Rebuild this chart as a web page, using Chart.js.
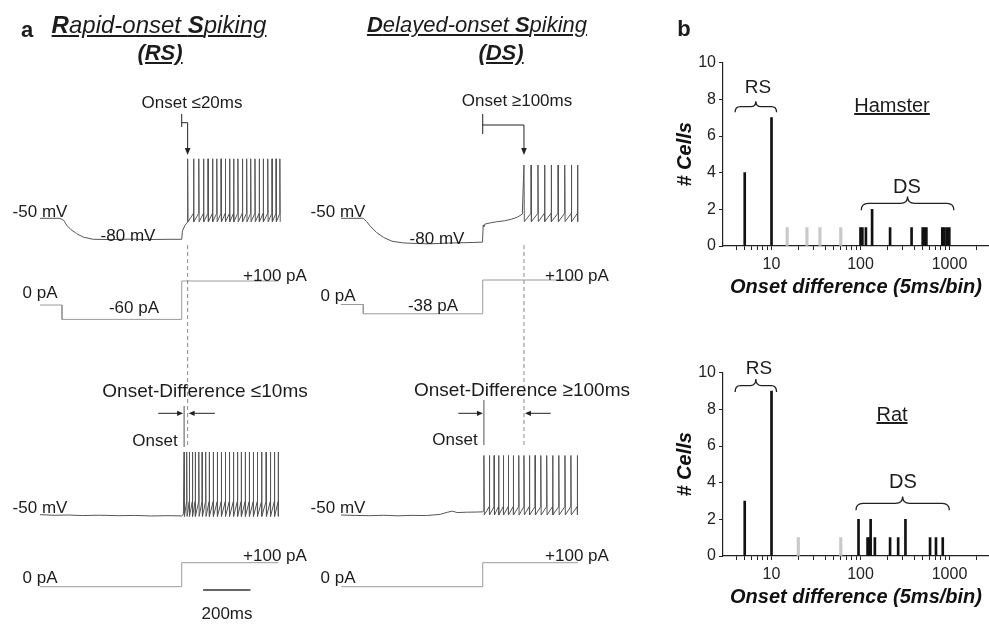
<!DOCTYPE html>
<html>
<head>
<meta charset="utf-8">
<script src="https://cdn.jsdelivr.net/npm/chart.js@4.4.1/dist/chart.umd.min.js"></script>
<style>
  html, body { margin: 0; padding: 0; background: #fff; }
  #fig { position: relative; width: 989px; height: 624px; overflow: hidden;
         font-family: "Liberation Sans", Arial, sans-serif; color: #1c1c1c; }
  canvas { position: absolute; }
  .t { position: absolute; transform: translate(-50%, -50%); white-space: nowrap;
       font-size: 17px; line-height: 1; }
  .ttl { font-size: 22px; font-style: italic; }
  .pl { font-size: 22px; font-weight: bold; }
  .big { font-size: 19px; }
</style>
</head>
<body>
<div id="fig">
  <canvas id="rsCol" width="330" height="624" style="left:0;top:0"></canvas>
  <canvas id="dsCol" width="330" height="624" style="left:301px;top:0"></canvas>
  <canvas id="hamster" width="319" height="265" style="left:670px;top:40px"></canvas>
  <canvas id="rat" width="319" height="265" style="left:670px;top:350px"></canvas>

  <!-- panel a -->
  <div class="t pl" style="left:27px;top:30px">a</div>
  <div class="t ttl" style="left:159px;top:25px;font-size:24px"><u><b>R</b>apid-onset <b>S</b>piking</u></div>
  <div class="t ttl" style="left:160px;top:53px"><u><b>(RS)</b></u></div>
  <div class="t ttl" style="left:477px;top:25px"><u><b>D</b>elayed-onset <b>S</b>piking</u></div>
  <div class="t ttl" style="left:501px;top:53px"><u><b>(DS)</b></u></div>

  <div class="t" style="left:192px;top:102px">Onset ≤20ms</div>
  <div class="t" style="left:517px;top:100px">Onset ≥100ms</div>

  <div class="t" style="left:40px;top:211px">-50 mV</div>
  <div class="t" style="left:128px;top:235px">-80 mV</div>
  <div class="t" style="left:275px;top:275px">+100 pA</div>
  <div class="t" style="left:40px;top:292px">0 pA</div>
  <div class="t" style="left:134px;top:307px">-60 pA</div>

  <div class="t" style="left:338px;top:211px">-50 mV</div>
  <div class="t" style="left:437px;top:238px">-80 mV</div>
  <div class="t" style="left:577px;top:275px">+100 pA</div>
  <div class="t" style="left:338px;top:295px">0 pA</div>
  <div class="t" style="left:433px;top:305px">-38 pA</div>

  <div class="t big" style="left:205px;top:390px">Onset-Difference ≤10ms</div>
  <div class="t" style="left:155px;top:440px">Onset</div>
  <div class="t big" style="left:522px;top:389px">Onset-Difference ≥100ms</div>
  <div class="t" style="left:455px;top:439px">Onset</div>

  <div class="t" style="left:40px;top:507px">-50 mV</div>
  <div class="t" style="left:275px;top:555px">+100 pA</div>
  <div class="t" style="left:40px;top:577px">0 pA</div>
  <div class="t" style="left:338px;top:507px">-50 mV</div>
  <div class="t" style="left:577px;top:555px">+100 pA</div>
  <div class="t" style="left:338px;top:577px">0 pA</div>
  <div class="t" style="left:227px;top:613px">200ms</div>

  <!-- panel b -->
  <div class="t pl" style="left:684px;top:29px">b</div>
  <div class="t big" style="left:758px;top:86px">RS</div>
  <div class="t" style="left:892px;top:105px;font-size:20px"><u>Hamster</u></div>
  <div class="t" style="left:907px;top:186px;font-size:20px">DS</div>
  <div class="t big" style="left:759px;top:367px">RS</div>
  <div class="t" style="left:892px;top:414px;font-size:20px"><u>Rat</u></div>
  <div class="t" style="left:903px;top:481px;font-size:20px">DS</div>
</div>

<script>
// ---------- panel b: onset difference histograms ----------
const xTickLabels = [10, 100, 1000];
const yTicks      = [0, 2, 4, 6, 8, 10];

const hamsterBins      = [5, 10, 100, 105, 115, 135, 215, 375, 500, 525, 550, 830, 875, 930, 995];
const hamsterCells     = [4, 7, 1, 1, 1, 2, 1, 1, 1, 1, 1, 1, 1, 1, 1];
const hamsterGrayBins  = [15, 25, 35, 60];
const hamsterGrayCells = [1, 1, 1, 1];

const ratBins      = [5, 10, 95, 120, 125, 130, 145, 215, 265, 320, 605, 705, 840];
const ratCells     = [3, 9, 2, 1, 1, 2, 1, 1, 1, 2, 1, 1, 1];
const ratGrayBins  = [20, 60];
const ratGrayCells = [1, 1];

// braces: [from bin, to bin, base count, tip count]
const hamsterBraces = [[3.9, 11.4, 7.3, 7.9], [102, 1120, 1.95, 2.7]];
const ratBraces     = [[3.9, 11.4, 8.95, 9.65], [89, 995, 2.5, 3.25]];

// ---------- panel a: traces (t in ms from trace start, mV, pA) ----------
const stepOn = 598;

const rsTopPre = [[0,-50],[84,-50],[100,-53],[113,-60],[130,-66],[155,-72],[183,-77],[225,-80],
                  [300,-80.4],[380,-79.8],[460,-80.3],[540,-80],[598,-80],[601,-68],[612,-60],[621,-56]];
const rsTopSpikes = [623, 648, 670, 690, 709, 728, 746, 764, 782, 800, 817, 835, 854, 872, 889,
                     907, 925, 942, 961, 979, 996, 1012];
const rsTopCurrent = [[0,0],[93,0],[93,-60],[598,-60],[598,100],[1005,100]];

const rsBotPre = [[0,-49.5],[60,-50.4],[120,-50],[180,-50.8],[250,-50.3],[330,-51],[400,-50.6],
                  [470,-51.4],[540,-51],[598,-51.3],[605,-49]];
const rsBotSpikes = [608, 619, 630, 643, 655, 670, 684, 699, 714, 731, 748, 765, 782, 799, 816,
                     833, 849, 866, 883, 900, 917, 935, 954, 972, 989, 1005];
const rsBotCurrent = [[0,0],[598,0],[598,100],[1005,100]];

const dsTopPre = [[0,-50],[94,-50],[108,-54],[125,-60],[150,-67],[180,-73],[215,-77.5],[260,-79.5],
                  [320,-80.3],[380,-80.6],[440,-79.8],[500,-79.4],[560,-79],[597,-78.6],[600,-58],
                  [603,-60],[607,-57],[630,-55.5],[660,-54],[690,-53],[720,-51],[745,-48.5],[765,-45]];
const dsTopSpikes = [772, 802, 831, 859, 887, 916, 944, 972, 998];
const dsTopCurrent = [[0,0],[94,0],[94,-38],[598,-38],[598,100],[1001,100]];

const dsBotPre = [[0,-50],[60,-50.6],[120,-51],[180,-50.4],[240,-51.2],[300,-50.5],[360,-50.8],
                  [420,-49],[450,-46],[470,-44.5],[490,-46.5],[530,-46],[570,-45.8],[598,-45.5],[601,-44]];
const dsBotSpikes = [603, 626, 646, 665, 685, 706, 727, 750, 772, 795, 819, 843, 868, 893, 919,
                     945, 970, 997];
const dsBotCurrent = [[0,0],[598,0],[598,100],[1001,100]];

Chart.defaults.font.family = '"Liberation Sans", Arial, sans-serif';
Chart.defaults.color = '#1c1c1c';
Chart.defaults.animation = false;

const pts = arr => arr.map(([x, y]) => ({ x, y }));

// voltage trace: read baseline, then one up/down stroke per spike
function spikeTrain(pre, spikes, peak, trough, thr) {
  const out = pts(pre);
  spikes.forEach((ts, i) => {
    if (i > 0) out.push({ x: ts - 0.5, y: thr });
    out.push({ x: ts, y: peak });
    out.push({ x: ts + 1.5, y: trough });
  });
  return out;
}

// linear axis range so that value v0 sits at pixel y0 with k px per unit
function yRange(v0, y0, k, h) {
  return { min: v0 - (h - y0) / k, max: v0 + y0 / k };
}

const PX_PER_MS = 0.237, T0_PX = 40, COL_W = 330, COL_H = 624;

function arrowHead(ctx, x, y, dir) {
  // dir: 'r', 'l', 'd'
  ctx.beginPath();
  if (dir === 'r') { ctx.moveTo(x, y); ctx.lineTo(x - 6, y - 2.6); ctx.lineTo(x - 6, y + 2.6); }
  if (dir === 'l') { ctx.moveTo(x, y); ctx.lineTo(x + 6, y - 2.6); ctx.lineTo(x + 6, y + 2.6); }
  if (dir === 'd') { ctx.moveTo(x, y); ctx.lineTo(x - 2.8, y - 7); ctx.lineTo(x + 2.8, y - 7); }
  ctx.closePath();
  ctx.fill();
}

const markPlugin = {
  id: 'marks',
  afterDatasetsDraw(chart, args, m) {
    const ctx = chart.ctx, X = t => chart.scales.x.getPixelForValue(t);
    ctx.save();
    ctx.strokeStyle = '#222'; ctx.fillStyle = '#222'; ctx.lineWidth = 1;
    // onset bracket + arrow
    const b = m.bracket, xt = X(b.tickT), xa = X(b.arrowT);
    ctx.beginPath();
    ctx.moveTo(xt, b.tickY[0]); ctx.lineTo(xt, b.tickY[1]);
    ctx.moveTo(xt, b.barY); ctx.lineTo(xa, b.barY); ctx.lineTo(xa, b.arrowY - 5);
    ctx.stroke();
    arrowHead(ctx, xa, b.arrowY, 'd');
    // dashed onset reference
    const xd = X(m.dashT);
    ctx.save();
    ctx.strokeStyle = '#8a8a8a'; ctx.setLineDash([4, 3]);
    ctx.beginPath(); ctx.moveTo(xd, m.dashY[0]); ctx.lineTo(xd, m.dashY[1]); ctx.stroke();
    ctx.restore();
    // solid onset line
    const xo = X(m.onsetT);
    ctx.strokeStyle = '#555';
    ctx.beginPath(); ctx.moveTo(xo, m.onsetY[0]); ctx.lineTo(xo, m.onsetY[1]); ctx.stroke();
    // onset-difference arrows
    ctx.strokeStyle = '#222';
    const xl = X(m.leftFrom), xr = X(m.rightFrom);
    ctx.beginPath();
    ctx.moveTo(xl, m.diffY); ctx.lineTo(xo - 4, m.diffY);
    ctx.moveTo(xr, m.diffY); ctx.lineTo(xd + 4, m.diffY);
    ctx.stroke();
    arrowHead(ctx, xo - 1, m.diffY, 'r');
    arrowHead(ctx, xd + 1, m.diffY, 'l');
    // time scale bar
    if (m.scaleBar) {
      ctx.lineWidth = 1.6; ctx.strokeStyle = '#333';
      ctx.beginPath();
      ctx.moveTo(X(m.scaleBar.t), m.scaleBar.y);
      ctx.lineTo(X(m.scaleBar.t + m.scaleBar.len), m.scaleBar.y);
      ctx.stroke();
    }
    ctx.restore();
  }
};

function traceChart(id, traces, axes, marks) {
  const scales = {
    x: { type: 'linear', display: false, min: -T0_PX / PX_PER_MS, max: (COL_W - T0_PX) / PX_PER_MS }
  };
  Object.entries(axes).forEach(([k, a]) => {
    scales[k] = Object.assign({ type: 'linear', display: false }, yRange(a[0], a[1], a[2], COL_H));
  });
  new Chart(document.getElementById(id), {
    type: 'line',
    data: {
      datasets: traces.map(tr => ({
        data: tr.data, yAxisID: tr.axis, borderColor: tr.color, borderWidth: 1,
        pointRadius: 0, tension: 0, fill: false
      }))
    },
    options: {
      responsive: false, events: [],
      layout: { padding: 0 },
      plugins: { legend: { display: false }, tooltip: { enabled: false }, marks },
      scales
    },
    plugins: [markPlugin]
  });
}

const VCOL = '#555', ICOL = '#9a9a9a';

traceChart('rsCol', [
  { data: spikeTrain(rsTopPre, rsTopSpikes, 35, -55, -43), axis: 'vTop', color: VCOL },
  { data: pts(rsTopCurrent), axis: 'iTop', color: ICOL },
  { data: spikeTrain(rsBotPre, rsBotSpikes, 40, -52, -31), axis: 'vBot', color: VCOL },
  { data: pts(rsBotCurrent), axis: 'iBot', color: ICOL }
], {
  vTop: [-50, 218.3, 0.7], iTop: [0, 305, 0.24], vBot: [-50, 515, 0.7], iBot: [0, 586.7, 0.24]
}, {
  bracket: { tickT: stepOn, tickY: [114, 127], barY: 122.7, arrowT: rsTopSpikes[0], arrowY: 155 },
  dashT: rsTopSpikes[0], dashY: [245, 447],
  onsetT: rsBotSpikes[0], onsetY: [406, 447],
  diffY: 413.3, leftFrom: 499, rightFrom: 738,
  scaleBar: { t: 688, len: 200, y: 590 }
});

traceChart('dsCol', [
  { data: spikeTrain(dsTopPre, dsTopSpikes, 14, -54, -44), axis: 'vTop', color: VCOL },
  { data: pts(dsTopCurrent), axis: 'iTop', color: ICOL },
  { data: spikeTrain(dsBotPre, dsBotSpikes, 35, -50, -38), axis: 'vBot', color: VCOL },
  { data: pts(dsBotCurrent), axis: 'iBot', color: ICOL }
], {
  vTop: [-50, 218.3, 0.833], iTop: [0, 304.5, 0.245], vBot: [-50, 515, 0.7], iBot: [0, 586.7, 0.24]
}, {
  bracket: { tickT: stepOn, tickY: [114, 134], barY: 125, arrowT: dsTopSpikes[0], arrowY: 155 },
  dashT: dsTopSpikes[0], dashY: [245, 445],
  onsetT: dsBotSpikes[0], onsetY: [400, 445],
  diffY: 413.3, leftFrom: 495, rightFrom: 885
});

// ---------- histogram charts ----------
function drawBrace(ctx, x1, x2, yb, yt) {
  const mid = (x1 + x2) / 2, ym = (yb + yt) / 2, r = Math.min(7, (x2 - x1) / 8);
  ctx.beginPath();
  ctx.moveTo(x1, yb);
  ctx.quadraticCurveTo(x1, ym, x1 + r, ym);
  ctx.lineTo(mid - r, ym);
  ctx.quadraticCurveTo(mid, ym, mid, yt);
  ctx.quadraticCurveTo(mid, ym, mid + r, ym);
  ctx.lineTo(x2 - r, ym);
  ctx.quadraticCurveTo(x2, ym, x2, yb);
  ctx.stroke();
}

const bracePlugin = {
  id: 'braces',
  afterDatasetsDraw(chart, args, opts) {
    const { ctx, scales: { x, y } } = chart;
    ctx.save();
    ctx.strokeStyle = '#222'; ctx.lineWidth = 1.3;
    (opts.list || []).forEach(([a, b, base, tip]) =>
      drawBrace(ctx, x.getPixelForValue(a), x.getPixelForValue(b),
                y.getPixelForValue(base), y.getPixelForValue(tip)));
    ctx.restore();
  }
};

const tickFont = { size: 16 };
const AX = '#222';

function histChart(id, bins, cells, grayBins, grayCells, braces) {
  new Chart(document.getElementById(id), {
    type: 'bar',
    data: {
      datasets: [
        { data: bins.map((b, i) => ({ x: b, y: cells[i] })), backgroundColor: '#111',
          barThickness: 2, grouped: false },
        { data: grayBins.map((b, i) => ({ x: b, y: grayCells[i] })), backgroundColor: '#c9c9c9',
          barThickness: 2.5, grouped: false }
      ]
    },
    options: {
      responsive: false, events: [],
      layout: { padding: { top: 22.7, right: 0, bottom: 0, left: 0 } },
      plugins: { legend: { display: false }, tooltip: { enabled: false }, braces: { list: braces } },
      scales: {
        x: {
          type: 'logarithmic', min: 2.85, max: 2780, offset: false,
          afterBuildTicks: s => {
            s.ticks = s.ticks.filter(t => {
              const m = t.value / Math.pow(10, Math.floor(Math.log10(t.value) + 1e-9));
              return Math.abs(m - Math.round(m)) < 1e-6 && t.value > s.min && t.value < s.max;
            });
          },
          ticks: {
            autoSkip: false, maxRotation: 0, minRotation: 0, font: tickFont, color: AX, padding: 5,
            callback: v => xTickLabels.includes(Math.round(v)) ? String(Math.round(v)) : ''
          },
          grid: { drawOnChartArea: false, drawTicks: true, tickLength: 4, color: AX, offset: false },
          border: { color: AX, width: 1.2 },
          title: { display: true, text: 'Onset difference (5ms/bin)', color: '#111',
                   font: { size: 20, weight: 'bold', style: 'italic' }, padding: { top: 2, bottom: 6 } },
          afterFit: s => { s.height = 59; }
        },
        y: {
          min: 0, max: 10,
          afterBuildTicks: s => { s.ticks = yTicks.map(v => ({ value: v })); },
          ticks: { font: tickFont, color: AX, padding: 3 },
          grid: { drawOnChartArea: false, drawTicks: true, tickLength: 4, color: AX },
          border: { color: AX, width: 1.2 },
          title: { display: true, text: '# Cells', color: '#111',
                   font: { size: 20, weight: 'bold', style: 'italic' }, padding: { top: 3, bottom: 0 } },
          afterFit: s => { s.width = 53; }
        }
      }
    },
    plugins: [bracePlugin]
  });
}

histChart('hamster', hamsterBins, hamsterCells, hamsterGrayBins, hamsterGrayCells, hamsterBraces);
histChart('rat', ratBins, ratCells, ratGrayBins, ratGrayCells, ratBraces);
</script>
</body>
</html>
